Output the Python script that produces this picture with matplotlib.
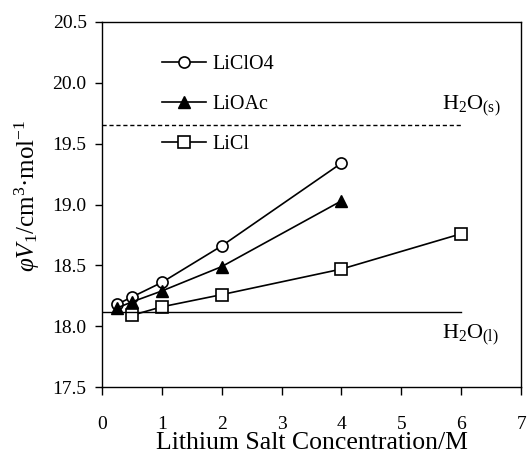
import numpy as np
import matplotlib
matplotlib.use("Agg")
import matplotlib.pyplot as plt
from matplotlib.ticker import FormatStrFormatter

plt.rcParams['font.family'] = ['Liberation Serif', 'DejaVu Serif']
plt.rcParams['mathtext.fontset'] = 'custom'
plt.rcParams['mathtext.rm'] = 'Liberation Serif'
plt.rcParams['mathtext.it'] = 'Liberation Serif:italic'

# data
conc_clo4 = [0.25, 0.5, 1, 2, 4]
vol_clo4 = [18.18, 18.24, 18.36, 18.66, 19.34]

conc_oac = [0.25, 0.5, 1, 2, 4]
vol_oac = [18.15, 18.20, 18.29, 18.49, 19.03]

conc_cl = [0.5, 1, 2, 4, 6]
vol_cl = [18.09, 18.16, 18.26, 18.47, 18.76]

h2o_liquid = 18.12
h2o_solid = 19.65
ref_x = [0, 6]

fig = plt.figure(figsize=(5.28, 4.55), dpi=100)
ax = fig.add_axes([0.193, 0.149, 0.794, 0.803])

lw = 1.2
ax.plot(conc_clo4, vol_clo4, '-o', color='black', lw=lw, ms=8,
        mfc='white', mec='black', mew=1.2, label='LiClO4')
ax.plot(conc_oac, vol_oac, '-^', color='black', lw=lw, ms=8,
        mfc='black', mec='black', label='LiOAc')
ax.plot(conc_cl, vol_cl, '-s', color='black', lw=lw, ms=9,
        mfc='white', mec='black', mew=1.2, label='LiCl')

ax.plot(ref_x, [h2o_liquid, h2o_liquid], '-', color='black', lw=1.0)
ax.plot(ref_x, [h2o_solid, h2o_solid], '--', color='black', lw=1.0, dashes=(3, 2))

ax.text(5.68, 19.78, r'H$_\mathrm{2}$O$_\mathrm{(s)}$', fontsize=16, ha='left', va='baseline')
ax.text(5.68, 17.90, r'H$_\mathrm{2}$O$_\mathrm{(l)}$', fontsize=16, ha='left', va='baseline')

ax.set_xlim(0, 7)
ax.set_ylim(17.5, 20.5)
ax.set_xticks(range(0, 8))
ax.set_yticks(np.arange(17.5, 20.51, 0.5))
ax.yaxis.set_major_formatter(FormatStrFormatter('%.1f'))
ax.tick_params(direction='out', width=1, labelsize=14, top=False, right=False)
ax.tick_params(axis='x', length=6, pad=14.5)
ax.tick_params(axis='y', length=5, pad=6)

for s in ax.spines.values():
    s.set_linewidth(1.0)

ax.set_xlabel('Lithium Salt Concentration/M', fontsize=18.5, va='baseline')
ax.xaxis.set_label_coords(0.5, -0.170)
ax.set_ylabel(r'$\varphi V_1$/cm$^3$·mol$^{-1}$', fontsize=18, va='center')
ax.yaxis.set_label_coords(-0.178, 0.523)

ax.legend(loc='upper left', bbox_to_anchor=(0.10, 0.96), frameon=False, fontsize=14.5,
          handlelength=2.2, labelspacing=1.05, handletextpad=0.3)

fig.savefig('out.png', dpi=100)
